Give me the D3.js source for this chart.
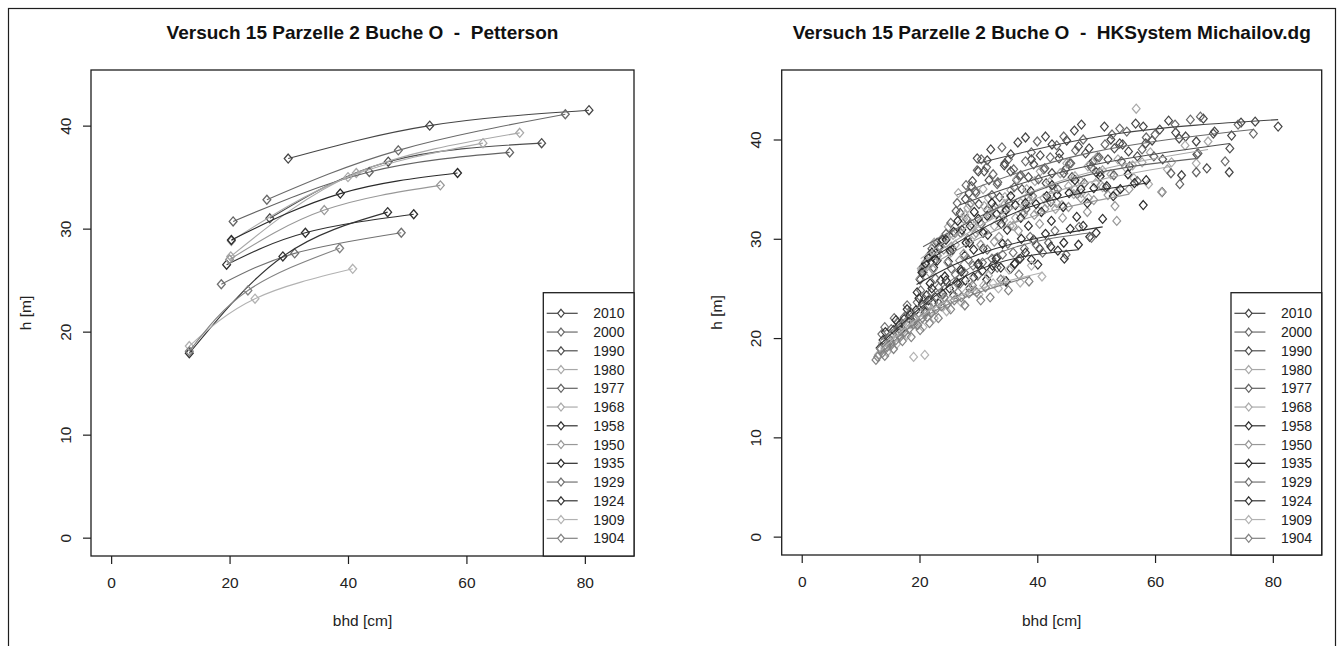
<!DOCTYPE html>
<html>
<head>
<meta charset="utf-8">
<script src="https://cdn.jsdelivr.net/npm/d3@7"></script>
<style>
  body { margin: 0; background: #fff; }
  svg { display: block; }
  text { font-family: "Liberation Sans", Arial, sans-serif; }
</style>
</head>
<body>
<svg id="chart" width="1343" height="646"></svg>
<script>
// survey years, same order as the legend
const years = ["2010", "2000", "1990", "1980", "1977", "1968", "1958", "1950", "1935", "1929", "1924", "1909", "1904"];
const yearGrays = ["#454545", "#6a6a6a", "#4e4e4e", "#a8a8a8", "#636363", "#ababab", "#303030",
                   "#989898", "#2a2a2a", "#717171", "#333333", "#b2b2b2", "#828282"];

const xTicks = [0, 20, 40, 60, 80];
const yTicks = [0, 10, 20, 30, 40];

// Petterson curves: dbh / height at min, mean and max diameter per year
const petD = [
  [29.9, 53.8, 80.7], [26.3, 48.5, 76.7], [26.8, 46.8, 72.7], [20.2, 41.4, 69.0],
  [20.6, 43.6, 67.3], [20.3, 40.0, 62.8], [19.5, 32.8, 51.1], [20.0, 36.0, 55.6],
  [20.3, 38.7, 58.5], [18.6, 31.0, 49.0], [13.2, 29.0, 46.7], [13.2, 24.3, 40.8],
  [13.2, 23.1, 38.6]
];
const petH = [
  [36.8, 40.0, 41.5], [32.8, 37.6, 41.1], [31.0, 36.5, 38.3], [27.3, 35.4, 39.3],
  [30.7, 35.5, 37.4], [28.8, 35.0, 38.3], [26.5, 29.6, 31.4], [27.0, 31.8, 34.2],
  [28.9, 33.4, 35.4], [24.6, 27.6, 29.6], [17.9, 27.3, 31.6], [18.6, 23.2, 26.1],
  [18.1, 24.0, 28.1]
];

// Michailov (HKSystem) curves per year
const mikD = [
  [29.9, 53.8, 80.9], [26.3, 48.5, 76.7], [26.8, 46.8, 72.7], [20.2, 41.4, 69.0],
  [20.6, 43.6, 67.3], [20.3, 40.0, 62.8], [19.5, 32.8, 51.1], [20.0, 36.0, 55.6],
  [20.3, 38.7, 58.5], [13.5, 31.0, 49.2], [13.2, 29.0, 47.0], [13.2, 24.3, 40.9],
  [13.2, 23.1, 38.8]
];
const mikH = [
  [37.6, 40.6, 42.0], [34.4, 38.6, 41.0], [33.4, 37.1, 39.6], [28.0, 35.3, 39.0],
  [29.2, 35.6, 38.1], [27.6, 34.1, 37.3], [25.4, 29.0, 31.2], [26.6, 31.6, 34.5],
  [27.4, 33.2, 35.6], [19.8, 27.9, 30.6], [19.3, 26.6, 28.9], [18.6, 23.6, 26.6],
  [18.3, 22.9, 26.2]
];

const trees2010 = [[30.0,36.8],[32.1,39.0],[34.4,37.4],[36.7,39.7],[39.0,38.0],[41.4,40.3],[43.8,38.6],[46.3,40.9],[48.8,39.1],[50.0,36.7],[51.4,41.3],[54.0,39.6],[56.7,41.6],[58.0,41.3],[59.5,39.9],[62.3,41.9],[64.5,36.4],[65.2,40.3],[67.0,39.8],[68.2,42.1],[70.1,40.8],[72.6,36.7],[73.0,40.4],[74.6,41.7],[77.0,41.8],[80.9,41.3],
  [31.5,37.9],[35.5,38.5],[38.0,40.2],[42.5,39.5],[45.0,39.9],[47.5,41.5],[52.5,40.0],[55.5,38.8],[60.8,41.0],[63.5,40.7]];
const trees2000 = [[26.4,33.6],[27.9,35.4],[29.6,34.6],[29.8,36.9],[31.4,37.2],[33.2,35.5],[35.1,38.0],[37.0,36.3],[39.0,38.7],[41.1,37.0],[43.3,39.4],[45.5,37.6],[47.8,40.0],[50.2,38.2],[52.7,40.5],[55.2,40.8],[57.8,39.0],[60.0,40.5],[63.4,41.5],[66.0,42.0],[67.7,42.3],[71.9,37.8],[74.1,41.5],[76.7,40.6],
  [28.8,35.3],[30.5,38.0],[32.5,36.5],[34.0,39.2],[36.0,37.0],[38.0,37.8],[40.0,39.8],[42.2,38.2],[44.5,40.3],[46.5,38.9],[49.0,37.5],[51.5,39.5],[54.0,41.1],[58.5,40.2]];
const trees1990 = [[26.9,32.6],[28.4,34.6],[29.8,38.1],[30.1,33.5],[31.8,35.9],[33.6,34.2],[35.5,36.8],[37.4,35.0],[39.4,37.5],[41.5,35.6],[43.7,38.1],[45.9,36.2],[48.2,38.6],[50.6,36.7],[53.1,39.1],[55.7,37.3],[58.4,39.6],[61.2,34.7],[61.3,38.0],[64.1,40.1],[67.1,38.5],[68.8,37.1],[69.9,40.6],[72.7,39.1],
  [27.8,34.0],[29.0,35.8],[31.0,36.8],[32.8,33.2],[34.5,37.6],[36.5,35.9],[38.5,36.2],[40.5,38.4],[42.5,36.6],[44.8,37.0],[47.0,39.3],[49.5,37.8],[52.0,38.0],[54.5,39.5],[57.0,38.3]];
const trees1980 = [[20.3,27.0],[21.7,28.4],[23.3,29.2],[24.9,31.2],[26.6,34.6],[28.2,33.1],[29.9,31.0],[31.7,34.1],[33.6,31.9],[35.5,34.9],[37.5,32.7],[39.6,35.8],[41.7,33.6],[43.9,36.6],[46.2,34.5],[48.6,37.3],[51.1,35.2],[53.4,34.6],[53.7,38.0],[56.4,36.1],[56.8,43.1],[59.2,38.7],[62.1,37.0],[65.1,39.4],[67.0,37.6],[69.0,39.8],
  [22.5,29.6],[25.7,30.4],[27.5,32.0],[30.8,35.0],[32.5,33.0],[34.5,33.5],[36.5,36.0],[38.5,34.2],[40.5,36.8],[42.8,35.0],[45.0,37.6],[47.4,35.8],[50.0,38.1],[52.5,36.5],[55.0,37.2],[57.8,37.7]];
const trees1977 = [[20.7,27.2],[22.1,29.0],[23.7,29.7],[25.3,31.6],[27.0,30.6],[28.7,33.6],[30.5,31.5],[32.3,34.4],[34.2,32.3],[36.1,35.2],[38.1,33.0],[40.2,36.0],[42.3,33.7],[44.5,36.6],[46.8,34.5],[49.2,37.2],[51.7,35.1],[54.3,37.8],[57.0,35.8],[59.8,38.3],[62.7,36.6],[64.2,35.5],[67.0,36.7],[67.3,38.6],
  [21.5,28.0],[23.0,29.6],[24.5,30.5],[26.2,32.8],[28.0,32.0],[29.5,34.8],[31.5,32.9],[33.3,35.7],[35.2,33.6],[37.2,36.4],[39.2,34.3],[41.3,37.1],[43.5,35.0],[45.7,37.6],[48.0,35.6],[50.5,38.2],[53.0,36.4]];
const trees1968 = [[20.4,26.8],[21.7,28.2],[23.1,28.3],[24.6,30.1],[26.1,29.4],[27.7,32.4],[29.3,30.4],[31.0,33.3],[32.7,31.3],[34.5,34.2],[36.3,32.1],[38.2,35.0],[40.1,32.8],[42.1,35.7],[44.2,33.4],[46.4,36.3],[48.7,34.1],[51.1,36.9],[53.6,34.8],[56.2,37.4],[58.9,35.5],[61.1,34.7],[62.8,37.7],
  [21.0,27.6],[22.4,29.3],[23.8,30.0],[25.3,28.6],[26.9,31.5],[28.5,33.4],[30.2,31.6],[31.9,32.6],[33.6,33.0],[35.4,31.3],[37.2,33.6],[39.1,34.3],[41.1,34.1],[43.1,33.0],[45.3,35.3],[47.5,34.6],[49.9,35.6]];
const trees1958 = [[19.6,24.6],[20.6,26.6],[21.8,25.5],[23.0,27.8],[24.3,26.2],[25.6,28.9],[27.0,26.9],[28.5,29.6],[30.0,27.5],[31.6,30.4],[33.2,28.1],[34.7,25.7],[34.9,30.9],[36.2,27.5],[38.5,31.3],[40.4,29.0],[42.4,31.8],[44.5,29.6],[46.7,32.2],[48.9,30.2],[51.1,32.0],
  [20.1,25.9],[21.2,24.3],[22.4,27.1],[23.6,25.8],[24.9,27.7],[26.3,25.6],[27.7,28.3],[29.2,28.9],[30.8,29.0],[32.4,27.3],[34.1,29.5],[37.3,30.0],[39.4,29.9],[41.4,30.5],[43.5,28.8],[45.6,31.0],[47.8,31.3],[50.0,30.6]];
const trees1950 = [[20.1,26.0],[21.1,27.4],[22.3,26.9],[23.5,29.2],[24.8,27.6],[26.1,30.6],[27.5,28.5],[28.9,31.5],[30.4,29.4],[31.9,32.3],[33.5,30.2],[35.1,33.1],[36.8,30.8],[38.6,33.8],[40.4,31.5],[42.3,34.4],[44.3,32.1],[46.4,35.0],[48.5,32.7],[50.8,35.4],[53.2,33.3],[53.5,31.8],[55.6,35.0],
  [20.6,27.0],[21.7,26.6],[22.9,28.3],[24.1,28.9],[25.4,29.2],[26.8,27.8],[28.2,30.0],[29.6,30.6],[31.1,30.7],[32.7,29.7],[34.3,31.9],[35.9,31.3],[37.7,32.5],[39.5,32.4],[41.3,33.0],[43.3,33.6],[45.3,33.2],[47.4,34.1],[49.6,33.9],[52.0,34.4]];
const trees1935 = [[20.4,26.6],[21.5,28.1],[22.7,27.9],[23.9,29.9],[25.2,28.8],[26.5,31.8],[27.9,29.6],[29.3,32.7],[30.8,30.6],[32.3,33.6],[33.9,31.5],[35.5,34.3],[37.2,32.1],[38.9,34.8],[40.7,32.7],[42.5,35.4],[44.4,33.2],[46.4,35.9],[48.5,33.6],[50.7,36.3],[52.9,34.3],[55.4,36.5],[58.0,33.4],[58.5,35.9],
  [21.0,27.5],[22.1,28.6],[23.3,29.1],[24.5,29.9],[25.8,30.7],[27.2,30.9],[28.6,31.3],[30.0,32.0],[31.5,32.3],[33.1,32.5],[34.7,32.9],[36.3,33.4],[38.0,33.6],[39.8,33.5],[41.6,34.3],[43.4,34.4],[45.4,34.6],[47.4,35.0],[49.6,35.1],[51.8,35.3],[54.1,35.0],[56.5,35.6]];
const trees1929 = [[13.6,20.4],[14.6,19.4],[15.7,22.0],[16.8,20.7],[17.9,23.3],[19.0,21.9],[20.2,24.8],[21.4,23.2],[22.7,26.0],[24.0,24.4],[25.4,27.0],[26.9,25.5],[28.3,27.9],[29.9,26.3],[31.5,28.9],[33.2,27.1],[35.0,29.5],[36.8,27.9],[38.8,30.2],[40.9,28.6],[43.0,30.8],[44.9,28.4],[47.1,31.2],[49.2,30.1],
  [14.1,21.1],[15.2,20.9],[16.3,21.6],[17.4,22.1],[18.5,22.6],[19.6,23.6],[20.8,23.9],[22.0,24.6],[23.3,25.1],[24.7,25.6],[26.1,26.4],[27.6,26.6],[29.1,27.3],[30.7,27.6],[32.3,28.0],[34.1,28.4],[35.9,28.6],[37.8,29.0],[39.8,29.4],[41.9,29.6]];
const trees1924 = [[13.3,19.0],[14.2,20.6],[15.1,19.7],[16.0,21.8],[16.9,20.8],[17.9,22.9],[18.9,21.6],[19.9,24.0],[21.0,22.6],[22.1,25.0],[23.3,23.5],[24.5,25.8],[25.8,24.3],[27.1,26.7],[28.5,25.0],[29.9,27.4],[31.4,25.9],[33.0,28.0],[34.7,25.7],[36.2,27.5],[38.0,28.6],[40.1,27.4],[42.3,29.2],[44.6,28.0],[47.0,29.4],
  [13.8,19.8],[14.7,20.0],[15.6,20.8],[16.5,21.3],[17.4,21.9],[18.4,22.3],[19.4,22.8],[20.5,23.4],[21.5,23.8],[22.7,24.1],[23.9,24.5],[25.1,25.0],[26.5,25.5],[27.8,25.8],[29.2,26.1],[30.7,26.8],[32.2,26.9],[33.8,27.1],[35.5,27.0],[37.1,28.0],[39.0,27.9]];
const trees1909 = [[13.0,18.3],[13.7,19.5],[14.5,18.6],[15.3,20.4],[16.1,19.4],[17.0,21.3],[17.9,20.3],[19.0,18.1],[20.9,18.3],[19.7,22.4],[20.6,21.1],[21.5,23.4],[22.5,22.0],[23.5,24.3],[24.6,22.7],[25.8,25.0],[27.1,23.6],[27.7,23.3],[28.6,25.7],[30.1,24.4],[31.7,26.3],[33.4,25.0],[35.2,26.9],[37.1,25.6],[39.0,27.3],[40.8,26.2],
  [13.4,18.9],[14.1,19.0],[14.9,19.5],[15.7,19.9],[16.5,20.3],[17.4,20.6],[18.4,21.4],[19.3,21.4],[20.2,21.9],[21.0,22.4],[22.0,22.7],[23.0,23.1],[24.0,23.2],[25.2,23.8],[26.4,24.0],[27.9,24.6],[29.3,24.8],[30.9,25.3],[32.5,25.5],[34.3,25.8]];
const trees1904 = [[12.6,17.8],[13.4,18.9],[14.1,18.2],[14.9,19.9],[15.6,18.9],[16.4,20.6],[17.1,19.7],[17.9,21.3],[18.6,20.1],[19.3,22.0],[20.1,20.8],[20.9,22.9],[21.7,21.5],[22.4,23.6],[23.2,22.0],[24.2,24.1],[25.3,22.9],[26.5,24.6],[27.7,23.3],[29.0,25.3],[30.4,23.8],[32.0,24.1],[33.8,25.9],[35.1,24.8],[36.9,26.4],[38.6,25.7],
  [12.9,18.1],[13.7,18.5],[14.5,19.1],[15.2,19.3],[16.0,19.8],[16.7,20.1],[17.5,20.6],[18.2,20.9],[19.0,21.4],[19.7,21.3],[20.5,22.0],[21.3,22.1],[22.0,22.5],[22.8,22.9],[23.7,23.2],[24.7,23.4],[25.9,23.8],[27.1,24.1],[28.4,24.5],[29.7,24.6],[31.2,25.1]];
const trees = [trees2010, trees2000, trees1990, trees1980, trees1977, trees1968, trees1958,
               trees1950, trees1935, trees1929, trees1924, trees1909, trees1904];

const svg = d3.select("#chart");
const ink = "#1e1e1e";

// outer frame of the figure
svg.append("rect")
  .attr("x", 8.5).attr("y", 8.5).attr("width", 1327).attr("height", 700)
  .attr("fill", "none").attr("stroke", ink).attr("stroke-width", 1.2);

function diamond(cx, cy, rx, ry) {
  return `M${cx},${cy - ry}L${cx + rx},${cy}L${cx},${cy + ry}L${cx - rx},${cy}Z`;
}

function drawPanel(p) {
  const x = d3.scaleLinear().domain([-3.4, 88.3]).range([p.left, p.right]);
  const y = d3.scaleLinear().domain(p.yDomain).range([p.bottom, p.top]);
  const g = svg.append("g");

  // title (keeps the double blanks around the dash)
  g.append("text")
    .attr("x", (p.left + p.right) / 2).attr("y", 39)
    .attr("text-anchor", "middle")
    .attr("font-size", 19).attr("font-weight", "bold").attr("fill", "#111")
    .style("white-space", "pre")
    .text(p.title);

  const line = d3.line().x(d => x(d[0])).y(d => y(d[1])).curve(d3.curveNatural);

  // scatter of single trees (right panel only)
  if (p.trees) {
    p.trees.forEach((pts, i) => {
      g.append("g").selectAll("path").data(pts).join("path")
        .attr("d", d => diamond(x(d[0]), y(d[1]), 3.9, 4.5))
        .attr("fill", "none").attr("stroke", yearGrays[i]).attr("stroke-width", 1.2);
    });
  }

  // fitted height curves
  p.curveD.forEach((ds, i) => {
    const pts = ds.map((d, k) => [d, p.curveH[i][k]]);
    g.append("path").datum(pts)
      .attr("d", line)
      .attr("fill", "none").attr("stroke", yearGrays[i]).attr("stroke-width", 1.1);
    if (p.markCurves) {
      g.append("g").selectAll("path").data(pts).join("path")
        .attr("d", d => diamond(x(d[0]), y(d[1]), 3.9, 4.5))
        .attr("fill", "none").attr("stroke", yearGrays[i]).attr("stroke-width", 1.3);
    }
  });

  // x axis
  const xa = g.append("g")
    .attr("transform", `translate(0,${p.bottom})`)
    .call(d3.axisBottom(x).tickValues(xTicks).tickSize(8).tickPadding(13));
  xa.select(".domain").remove();
  xa.selectAll(".tick line").attr("stroke", ink).attr("stroke-width", 1.2);
  xa.selectAll(".tick text").attr("font-size", 15.5).attr("fill", "#222")
    .style("font-family", '"Liberation Sans", Arial, sans-serif');

  // y axis with vertical labels
  const ya = g.append("g")
    .attr("transform", `translate(${p.left},0)`)
    .call(d3.axisLeft(y).tickValues(yTicks).tickSize(8));
  ya.select(".domain").remove();
  ya.selectAll(".tick line").attr("stroke", ink).attr("stroke-width", 1.2);
  ya.selectAll(".tick text")
    .attr("transform", "rotate(-90)")
    .attr("x", 0).attr("y", -20.5).attr("dy", 0)
    .attr("text-anchor", "middle")
    .attr("font-size", 15.5).attr("fill", "#222")
    .style("font-family", '"Liberation Sans", Arial, sans-serif');

  // axis titles
  g.append("text")
    .attr("x", (p.left + p.right) / 2).attr("y", 626)
    .attr("text-anchor", "middle").attr("font-size", 15.5).attr("fill", "#222")
    .text("bhd [cm]");
  g.append("text")
    .attr("transform", `translate(${p.left - 60},${(p.top + p.bottom) / 2}) rotate(-90)`)
    .attr("text-anchor", "middle").attr("font-size", 15.5).attr("fill", "#222")
    .text("h [m]");

  // plot box
  g.append("rect")
    .attr("x", p.left).attr("y", p.top)
    .attr("width", p.right - p.left).attr("height", p.bottom - p.top)
    .attr("fill", "none").attr("stroke", ink).attr("stroke-width", 1.3);

  // legend in the lower right corner
  const lx = p.right - 90.7, ly = 292.7;
  const lg = g.append("g");
  lg.append("rect")
    .attr("x", lx).attr("y", ly).attr("width", p.right - lx).attr("height", p.bottom - ly)
    .attr("fill", "#fff").attr("stroke", ink).attr("stroke-width", 1.3);
  years.forEach((yr, i) => {
    const ry = 313.3 + i * 18.75;
    lg.append("line")
      .attr("x1", lx + 3.4).attr("x2", lx + 34.4).attr("y1", ry).attr("y2", ry)
      .attr("stroke", yearGrays[i]).attr("stroke-width", 1.2);
    lg.append("path")
      .attr("d", diamond(lx + 17.7, ry, 3.3, 4))
      .attr("fill", "#fff").attr("stroke", yearGrays[i]).attr("stroke-width", 1.2);
    lg.append("text")
      .attr("x", lx + 50).attr("y", ry).attr("dy", "0.36em")
      .attr("font-size", 14).attr("fill", "#222")
      .text(yr);
  });
}

drawPanel({
  left: 91, right: 634, top: 70, bottom: 556,
  yDomain: [-1.78, 45.4],
  title: "Versuch 15 Parzelle 2 Buche O  -  Petterson",
  curveD: petD, curveH: petH, markCurves: true
});

drawPanel({
  left: 781.7, right: 1321.7, top: 70, bottom: 555,
  yDomain: [-1.85, 47.0],
  title: "Versuch 15 Parzelle 2 Buche O  -  HKSystem Michailov.dg",
  curveD: mikD, curveH: mikH, trees: trees
});
</script>
</body>
</html>
